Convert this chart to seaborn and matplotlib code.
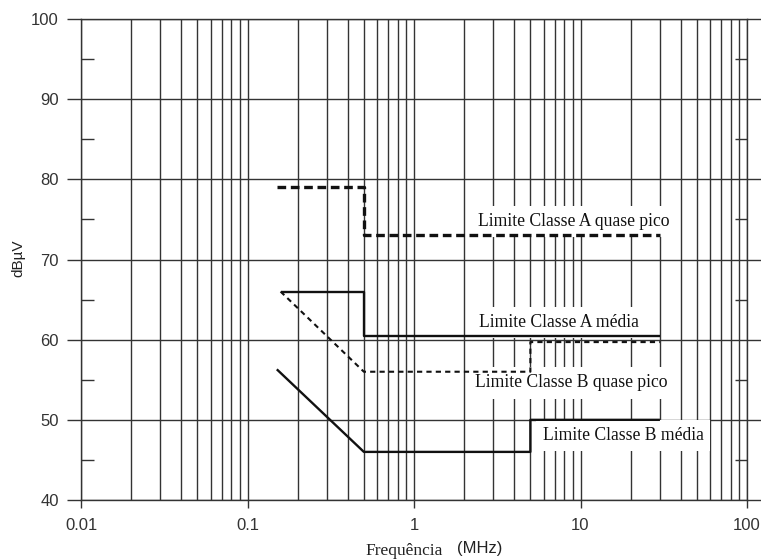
import numpy as np
import pandas as pd
import matplotlib
matplotlib.use("Agg")
import matplotlib.pyplot as plt
from matplotlib.ticker import LogLocator, FixedLocator, NullFormatter, FixedFormatter
import seaborn as sns

# Conducted emission limits (frequency in MHz, level in dBµV)
freq_a_qp = [0.15, 0.5, 0.5, 30]
level_a_qp = [79, 79, 73, 73]

freq_a_avg = [0.158, 0.5, 0.5, 30]
level_a_avg = [66, 66, 60.4, 60.4]

freq_b_qp = [0.158, 0.5, 5, 5, 30]
level_b_qp = [66, 56, 56, 59.7, 59.7]

freq_b_avg = [0.15, 0.5, 5, 5, 30]
level_b_avg = [56.3, 46, 46, 50, 50]

x_ticks = [0.01, 0.1, 1, 10, 100]
x_tick_labels = ["0.01", "0.1", "1", "10", "100"]
y_ticks = [40, 50, 60, 70, 80, 90, 100]

labels = ["Limite Classe A quase pico", "Limite Classe A média",
          "Limite Classe B quase pico", "Limite Classe B média"]
label_freq = [9.1, 7.4, 8.8, 18.0]
label_level = [74.7, 62.1, 54.6, 48.1]

sns.set_style("white")
plt.rcParams["font.family"] = ["Liberation Sans", "DejaVu Sans"]

fig = plt.figure(figsize=(7.61, 5.6), dpi=100)
ax = fig.add_axes([81 / 761, 1 - 500 / 560, (747 - 81) / 761, (500 - 19) / 560])

grid_color = "#333333"

series = [
    (freq_a_qp, level_a_qp, dict(lw=2.4, dashes=(2.6, 1.4))),
    (freq_a_avg, level_a_avg, dict(lw=1.7)),
    (freq_b_qp, level_b_qp, dict(lw=1.5, dashes=(2.5, 2.0))),
    (freq_b_avg, level_b_avg, dict(lw=1.7)),
]
for fx, ly, style in series:
    df = pd.DataFrame({"f": fx, "dB": ly})
    line_kw = dict(color="#111111", linewidth=style["lw"], solid_capstyle="butt",
                   zorder=4)
    sns.lineplot(data=df, x="f", y="dB", ax=ax, sort=False, estimator=None,
                 **line_kw)
    if "dashes" in style:
        ax.lines[-1].set_dashes(style["dashes"])
        ax.lines[-1].set_dash_capstyle("butt")

ax.set_xscale("log")
ax.set_xlim(0.01, 100)
ax.set_ylim(40, 100)

ax.xaxis.set_major_locator(FixedLocator(x_ticks))
ax.xaxis.set_major_formatter(FixedFormatter(x_tick_labels))
ax.xaxis.set_minor_locator(LogLocator(base=10, subs=np.arange(2, 10)))
ax.xaxis.set_minor_formatter(NullFormatter())
ax.yaxis.set_major_locator(FixedLocator(y_ticks))
ax.yaxis.set_minor_locator(FixedLocator([45, 55, 65, 75, 85, 95]))

ax.grid(True, which="major", axis="both", color=grid_color, lw=1.0)
ax.grid(True, which="minor", axis="x", color=grid_color, lw=1.0)
ax.set_axisbelow(True)

ax.tick_params(axis="x", which="major", direction="out", length=6, width=1,
               color=grid_color, labelsize=12, labelcolor="#333333", pad=7,
               bottom=True, top=False)
ax.tick_params(axis="x", which="minor", length=0)
ax.tick_params(axis="y", which="major", direction="out", length=10, width=1,
               color=grid_color, labelsize=12, labelcolor="#333333", pad=6,
               left=True, right=True)
ax.tick_params(axis="y", which="minor", direction="in", length=9, width=1,
               color=grid_color, left=True, right=True)

for s in ax.spines.values():
    s.set_visible(True)
    s.set_color(grid_color)
    s.set_linewidth(1.0)

for txt, fx, ly in zip(labels, label_freq, label_level):
    ax.text(fx, ly, txt, family="Liberation Serif", fontsize=12.7,
            ha="center", va="center", color="#111111", zorder=3,
            bbox=dict(boxstyle="square,pad=0.4", fc="white", ec="none"))

ax.set_xlabel("")
ax.set_ylabel("")
fig.text(18 / 761, 1 - 258 / 560, "dBµV", rotation=90, ha="center", va="center",
         fontsize=11, color="#222222")
fig.text(404 / 761, 1 - 551 / 560, "Frequência", family="Liberation Serif",
         ha="center", va="center", fontsize=12.5, color="#222222")
fig.text(480 / 761, 1 - 548 / 560, "(MHz)", ha="center", va="center",
         fontsize=12, color="#222222")

fig.savefig("out.png", dpi=100)
